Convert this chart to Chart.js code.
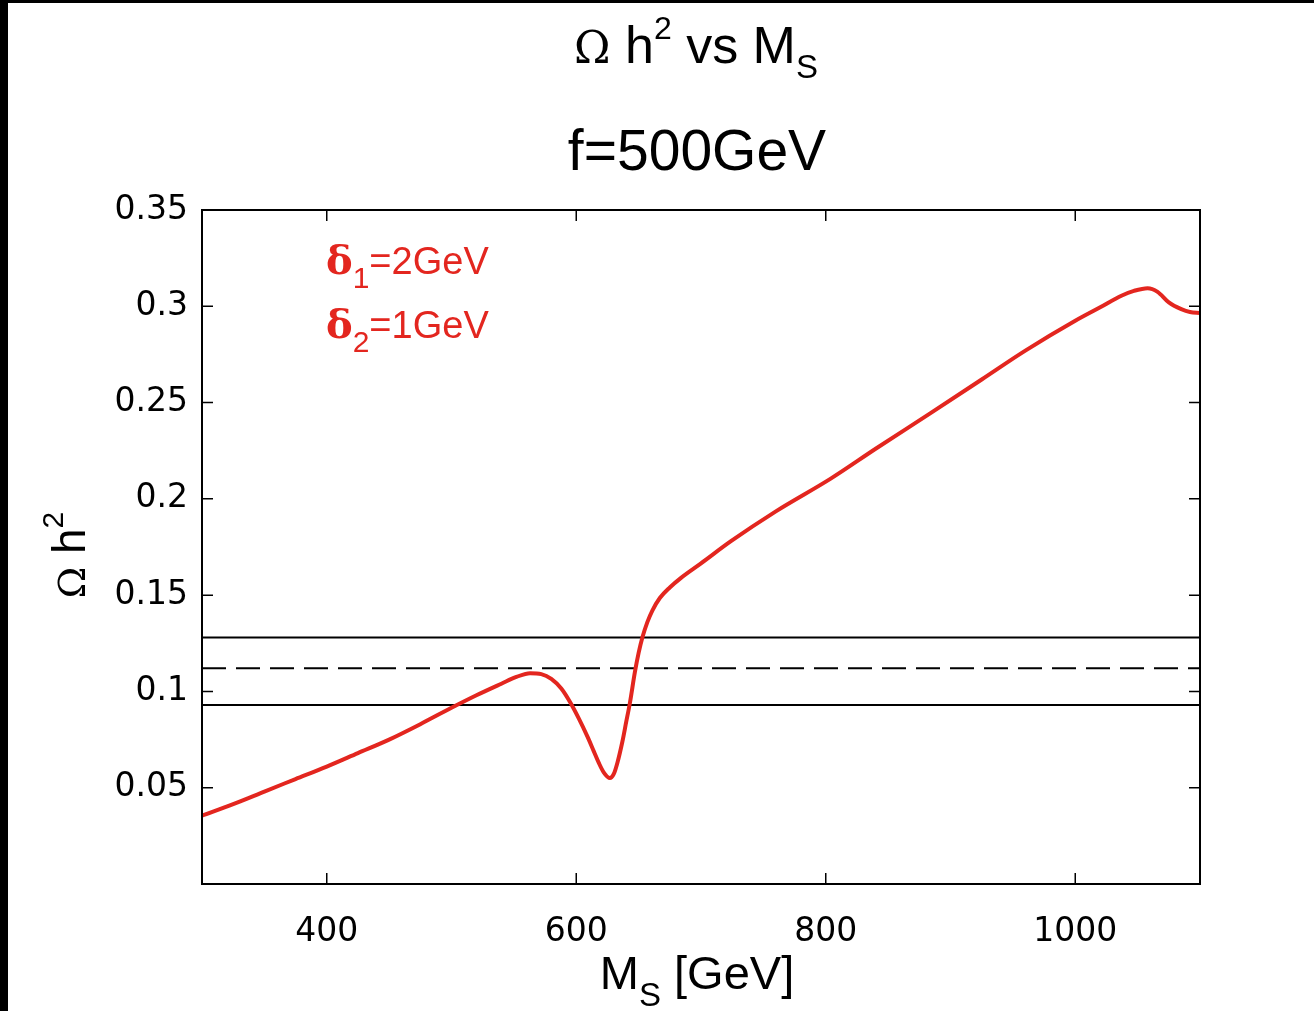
<!DOCTYPE html>
<html>
<head>
<meta charset="utf-8">
<script src="https://cdn.jsdelivr.net/npm/chart.js@4/dist/chart.umd.min.js"></script>
<style>
  html, body { margin: 0; padding: 0; background: #000; }
  #wrap { position: absolute; left: 8px; top: 3px; width: 1306px; height: 1008px; background: #fff; }
</style>
</head>
<body>
<div id="wrap"><canvas id="relic" width="1306" height="1008"></canvas></div>
<script>
// M_S [GeV] and Omega h^2
const msGeV = [300, 325, 350, 375, 400, 425, 450, 475, 500, 520, 540, 552, 563, 572, 580, 588, 595, 602, 609, 614, 618, 622, 627, 630, 633, 637, 640, 643, 647, 650, 653, 657, 661, 667, 675, 684, 700, 724, 760, 804, 840, 884, 925, 960, 1000, 1020, 1037, 1047, 1058, 1066, 1075, 1085, 1092, 1100];
const omegaH2 = [0.0355, 0.0415, 0.048, 0.0545, 0.061, 0.068, 0.075, 0.083, 0.0915, 0.098, 0.104, 0.1075, 0.1095, 0.109, 0.1065, 0.1015, 0.0945, 0.086, 0.0765, 0.069, 0.063, 0.058, 0.055, 0.057, 0.063, 0.074, 0.084, 0.094, 0.110, 0.120, 0.128, 0.136, 0.142, 0.1485, 0.154, 0.159, 0.1665, 0.178, 0.1935, 0.2105, 0.226, 0.2445, 0.262, 0.277, 0.2925, 0.2995, 0.3055, 0.308, 0.3094, 0.3075, 0.302, 0.2985, 0.297, 0.2965];

// WMAP band: upper, central (dashed), lower
const bandUpper = 0.128;
const bandCentral = 0.112;
const bandLower = 0.093;

const xRange = [300, 1100];
const yRange = [0, 0.35];
const xTicks = [400, 600, 800, 1000];
const yTicks = [0.05, 0.1, 0.15, 0.2, 0.25, 0.3, 0.35];

const SANS = "'Liberation Sans', Arial, sans-serif";
const SERIF = "'DejaVu Serif', 'Liberation Serif', serif";
const RED = '#e3261f';

const hline = (v, dash) => ({
  data: [{ x: xRange[0], y: v }, { x: xRange[1], y: v }],
  borderColor: '#000',
  borderWidth: 2,
  borderDash: dash,
  pointRadius: 0,
  tension: 0,
});

// draw a run of text pieces (for sub/superscripts), centred or left aligned
function drawRich(ctx, parts, x, y, align) {
  let w = 0;
  parts.forEach(p => { ctx.font = p.font; p.w = ctx.measureText(p.t).width; w += p.w; });
  let cx = align === 'left' ? x : x - w / 2;
  ctx.textBaseline = 'alphabetic';
  ctx.textAlign = 'left';
  parts.forEach(p => {
    ctx.font = p.font;
    ctx.fillText(p.t, cx, y + (p.dy || 0));
    cx += p.w;
  });
}

const decorations = {
  id: 'decorations',
  afterDraw(chart) {
    const { ctx, chartArea: a, scales } = chart;
    ctx.save();
    // frame
    ctx.strokeStyle = '#000';
    ctx.lineWidth = 2;
    ctx.strokeRect(a.left, a.top, a.right - a.left, a.bottom - a.top);
    // inward ticks on all four sides
    ctx.lineWidth = 1.5;
    ctx.beginPath();
    xTicks.forEach(v => {
      const px = scales.x.getPixelForValue(v);
      ctx.moveTo(px, a.bottom); ctx.lineTo(px, a.bottom - 11);
      ctx.moveTo(px, a.top); ctx.lineTo(px, a.top + 11);
    });
    yTicks.forEach(v => {
      const py = scales.y.getPixelForValue(v);
      ctx.moveTo(a.left, py); ctx.lineTo(a.left + 11, py);
      ctx.moveTo(a.right, py); ctx.lineTo(a.right - 11, py);
    });
    ctx.stroke();

    ctx.fillStyle = '#000';
    const mid = (a.left + a.right) / 2;
    // titles
    drawRich(ctx, [
      { t: 'Ω', font: `44px ${SERIF}` },
      { t: ' h', font: `52px ${SANS}` },
      { t: '2', font: `32px ${SANS}`, dy: -24 },
      { t: ' vs M', font: `52px ${SANS}` },
      { t: 'S', font: `33px ${SANS}`, dy: 15 },
    ], mid - 5, 60);
    drawRich(ctx, [{ t: 'f=500GeV', font: `57px ${SANS}` }], mid - 4, 167);

    // x axis title
    drawRich(ctx, [
      { t: 'M', font: `47px ${SANS}` },
      { t: 'S', font: `33px ${SANS}`, dy: 17 },
      { t: ' [GeV]', font: `47px ${SANS}` },
    ], mid - 4, 986);

    // y axis title (rotated)
    ctx.save();
    ctx.translate(77, 552);
    ctx.rotate(-Math.PI / 2);
    drawRich(ctx, [
      { t: 'Ω', font: `38px ${SERIF}` },
      { t: ' h', font: `46px ${SANS}` },
      { t: '2', font: `30px ${SANS}`, dy: -22 },
    ], 0, 0);
    ctx.restore();

    // annotation
    ctx.fillStyle = RED;
    drawRich(ctx, [
      { t: 'δ', font: `bold 40px ${SERIF}` },
      { t: '1', font: `30px ${SANS}`, dy: 14 },
      { t: '=2GeV', font: `38px ${SANS}` },
    ], 318, 271, 'left');
    drawRich(ctx, [
      { t: 'δ', font: `bold 40px ${SERIF}` },
      { t: '2', font: `30px ${SANS}`, dy: 14 },
      { t: '=1GeV', font: `38px ${SANS}` },
    ], 318, 335, 'left');
    ctx.restore();
  },
};

new Chart(document.getElementById('relic'), {
  type: 'line',
  data: {
    datasets: [
      {
        data: msGeV.map((m, i) => ({ x: m, y: omegaH2[i] })),
        borderColor: RED,
        borderWidth: 4,
        pointRadius: 0,
        cubicInterpolationMode: 'monotone',
      },
      hline(bandUpper, []),
      hline(bandCentral, [24, 10]),
      hline(bandLower, []),
    ],
  },
  options: {
    responsive: false,
    animation: false,
    layout: { padding: { top: 207, right: 114, left: 0, bottom: 0 } },
    plugins: {
      legend: { display: false },
      tooltip: { enabled: false },
      title: { display: false },
    },
    scales: {
      x: {
        type: 'linear',
        min: xRange[0],
        max: xRange[1],
        afterBuildTicks: s => { s.ticks = xTicks.map(v => ({ value: v })); },
        afterFit: s => { s.height = 127; },
        grid: { display: false, drawTicks: false },
        border: { display: false },
        ticks: {
          color: '#000',
          padding: 29,
          font: { family: "'DejaVu Sans', sans-serif", size: 33 },
          callback: v => String(v),
        },
      },
      y: {
        type: 'linear',
        min: yRange[0],
        max: yRange[1],
        afterBuildTicks: s => { s.ticks = yTicks.map(v => ({ value: v })); },
        afterFit: s => { s.width = 194; },
        grid: { display: false, drawTicks: false },
        border: { display: false },
        ticks: {
          color: '#000',
          padding: 14,
          font: { family: "'DejaVu Sans', sans-serif", size: 33 },
          callback: v => String(+v.toFixed(2)),
        },
      },
    },
  },
  plugins: [decorations],
});
</script>
</body>
</html>
